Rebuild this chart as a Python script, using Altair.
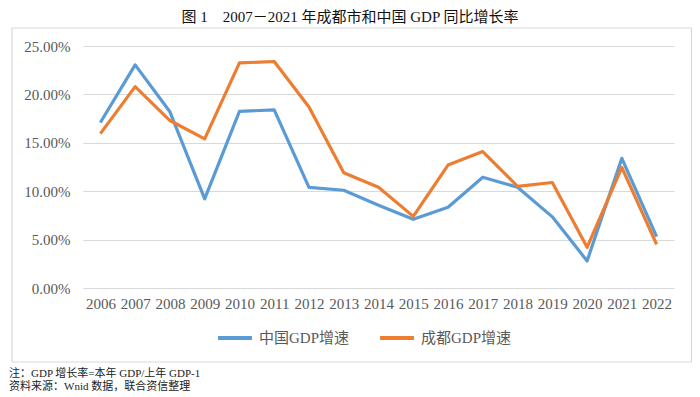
import altair as alt
import pandas as pd

years = [str(y) for y in range(2006, 2023)]
china = [17.1, 23.05, 18.2, 9.2, 18.25, 18.4, 10.4, 10.1, 8.55, 7.1, 8.35, 11.45, 10.4, 7.35, 2.8, 13.4, 5.3]
chengdu = [15.95, 20.8, 17.3, 15.4, 23.25, 23.4, 18.7, 11.9, 10.4, 7.4, 12.7, 14.1, 10.5, 10.9, 4.2, 12.45, 4.5]
series_names = ["中国GDP增速", "成都GDP增速"]
colors = ["#5B9BD5", "#ED7D31"]
y_ticks = [0, 0.05, 0.10, 0.15, 0.20, 0.25]

title_text = "图 1\u00a0\u00a0\u00a0\u00a02007－2021 年成都市和中国 GDP 同比增长率"
note1 = "注：GDP 增长率=本年 GDP/上年 GDP-1"
note2 = "资料来源：Wnid 数据，联合资信整理"

rows = []
for i, y in enumerate(years):
    rows.append({"year": y, "series": series_names[0], "value": china[i] / 100})
    rows.append({"year": y, "series": series_names[1], "value": chengdu[i] / 100})
df = pd.DataFrame(rows)

FONT = "Liberation Serif, Noto Sans CJK SC"
W, H = 591, 242

lines = alt.Chart(df).mark_line(strokeWidth=3.2, strokeJoin="round").encode(
    x=alt.X("year:O", title=None, sort=years,
            scale=alt.Scale(type="point", padding=0.5),
            axis=alt.Axis(labelAngle=0, domain=False, ticks=False, grid=False,
                          labelFont=FONT, labelFontSize=15, labelColor="#595959",
                          labelPadding=8)),
    y=alt.Y("value:Q", title=None, scale=alt.Scale(domain=[0, 0.25], nice=False),
            axis=alt.Axis(values=y_ticks, format=".2%", domain=False, ticks=False,
                          gridColor="#D9D9D9", gridWidth=1.2,
                          labelFont=FONT, labelFontSize=15, labelColor="#595959",
                          labelPadding=13)),
    color=alt.Color("series:N", sort=series_names,
                    scale=alt.Scale(domain=series_names, range=colors),
                    legend=alt.Legend(title=None, orient="none", direction="horizontal",
                                      legendX=133, legendY=273,
                                      symbolType="stroke", symbolSize=1150,
                                      symbolStrokeWidth=4, labelFont=FONT,
                                      labelFontSize=15, labelColor="#595959",
                                      labelOffset=5, columnPadding=22)),
)

one = alt.Data(values=[{"a": 1}])

border = alt.Chart(one).mark_rect(fill=None, stroke="#D9D9D9", strokeWidth=1.2).encode(
    x=alt.value(-71), x2=alt.value(608.5), y=alt.value(-18), y2=alt.value(316)
)

title = alt.Chart(one).mark_text(font=FONT, fontSize=15, color="#111111",
                                 align="center", baseline="middle").encode(
    x=alt.value(267), y=alt.value(-29), text=alt.value(title_text)
)

n1 = alt.Chart(one).mark_text(font=FONT, fontSize=11, color="#222222",
                              align="left", baseline="middle").encode(
    x=alt.value(-74), y=alt.value(328), text=alt.value(note1)
)
n2 = alt.Chart(one).mark_text(font=FONT, fontSize=11, color="#222222",
                              align="left", baseline="middle").encode(
    x=alt.value(-74), y=alt.value(341), text=alt.value(note2)
)

chart = alt.layer(border, lines, title, n1, n2).properties(
    width=W, height=H,
    autosize=alt.AutoSizeParams(type="none"),
    padding={"left": 75, "top": 38, "right": 18, "bottom": 108},
).configure_view(stroke=None)

chart.save("out.html", embed_options={"renderer": "svg", "actions": False})
